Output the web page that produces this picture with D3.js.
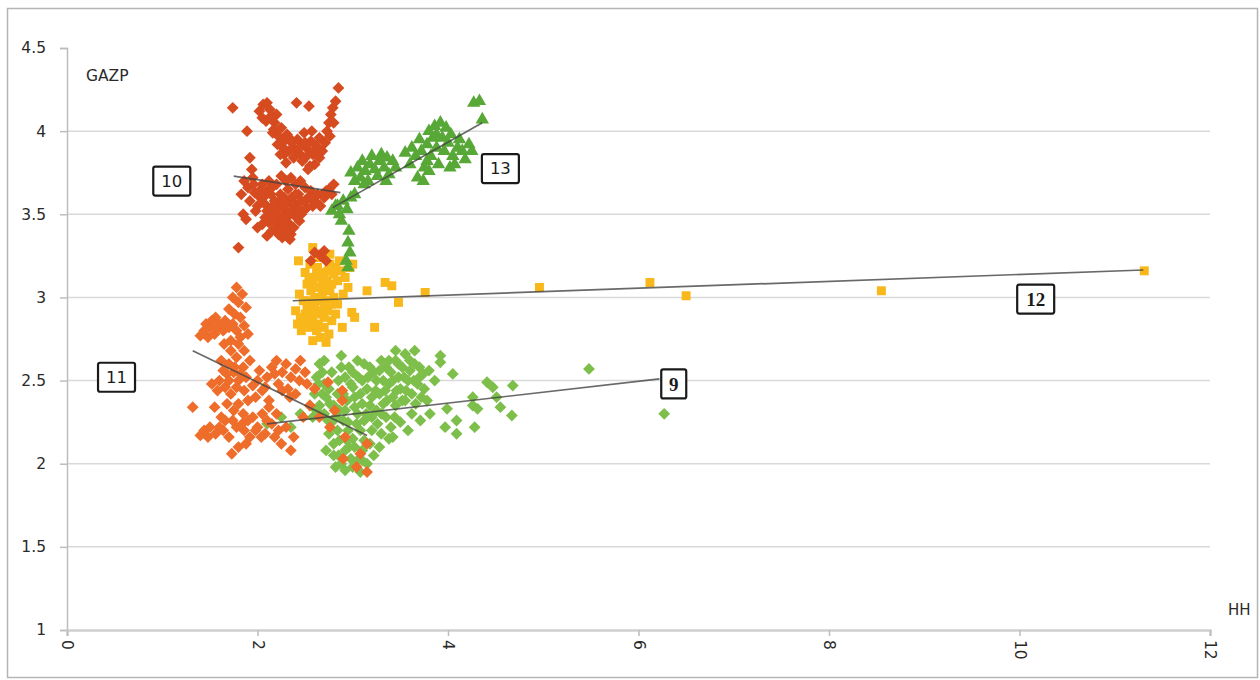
<!DOCTYPE html>
<html>
<head>
<meta charset="utf-8">
<script src="https://cdn.jsdelivr.net/npm/d3@7"></script>
<style>
  html, body { margin: 0; padding: 0; background: #fff; }
  svg { display: block; }
</style>
</head>
<body>
<svg id="chart" width="1260" height="680"></svg>
<script>
// Axis ticks
const xTicks = [0, 2, 4, 6, 8, 10, 12];
const yTicks = [1, 1.5, 2, 2.5, 3, 3.5, 4, 4.5];

// Series 9: light green diamonds (HH, GAZP)
const series9 = [
  [2.10,2.24],[2.25,2.28],[2.35,2.22],[2.45,2.30],[2.55,2.35],[2.60,2.42],[2.62,2.52],[2.65,2.60],
  [2.68,2.55],[2.70,2.48],[2.72,2.40],[2.75,2.45],[2.78,2.55],[2.80,2.35],[2.82,2.28],[2.85,2.50],
  [2.88,2.58],[2.90,2.42],[2.92,2.32],[2.95,2.25],[2.98,2.48],[3.00,2.55],[3.02,2.40],[3.05,2.30],
  [3.08,2.20],[3.10,2.50],[3.12,2.60],[3.15,2.45],[3.18,2.35],[3.20,2.28],[3.22,2.55],[3.25,2.50],
  [3.28,2.42],[3.30,2.62],[3.32,2.36],[3.35,2.58],[3.38,2.48],[3.40,2.55],[3.42,2.40],[3.45,2.62],
  [3.48,2.52],[3.50,2.45],[3.52,2.58],[3.55,2.66],[3.58,2.50],[3.60,2.56],[3.62,2.42],[3.65,2.60],
  [3.68,2.48],[3.70,2.52],[3.72,2.40],[3.75,2.45],[3.78,2.38],[2.75,2.18],[2.80,2.12],[2.85,2.05],
  [2.88,2.00],[2.92,1.96],[2.96,2.10],[3.00,2.15],[3.05,2.02],[3.10,2.08],[3.15,2.00],[3.18,2.12],
  [3.22,2.05],[3.00,1.98],[2.95,2.20],[2.78,2.25],[2.70,2.30],[2.65,2.35],[2.88,2.65],[3.05,2.62],
  [3.25,2.32],[3.35,2.28],[3.45,2.35],[3.55,2.38],[3.62,2.30],[3.50,2.25],[3.40,2.22],[3.30,2.18],
  [3.20,2.20],[3.12,2.26],[3.45,2.68],[3.65,2.68],[3.80,2.56],[3.86,2.50],[2.72,2.08],[2.82,1.98],
  [3.08,1.95],[3.28,2.10],[3.38,2.15],[3.58,2.20],[2.58,2.28],[2.68,2.42],[2.92,2.52],[3.18,2.58],
  [2.64,2.48],[2.70,2.62],[2.76,2.36],[2.84,2.42],[2.86,2.32],[2.90,2.26],[2.94,2.38],[2.96,2.58],
  [3.00,2.46],[3.02,2.34],[3.04,2.24],[3.06,2.52],[3.08,2.42],[3.10,2.36],[3.12,2.14],[3.14,2.30],
  [3.16,2.52],[3.20,2.40],[3.24,2.44],[3.26,2.24],[3.28,2.56],[3.30,2.30],[3.32,2.50],[3.34,2.44],
  [3.36,2.38],[3.38,2.62],[3.42,2.50],[3.44,2.28],[3.46,2.44],[3.48,2.60],[3.52,2.38],[3.54,2.52],
  [3.56,2.44],[3.60,2.62],[3.64,2.50],[3.66,2.36],[3.70,2.58],[3.74,2.54],[2.80,2.05],[2.86,2.14],
  [2.92,2.08],[2.98,2.03],[3.02,2.10],[3.10,2.02],[2.94,2.14],[2.84,2.20],[2.74,2.26],[2.62,2.32],
  [3.92,2.65],[3.92,2.61],[4.05,2.54],[3.99,2.33],[4.09,2.26],[3.97,2.22],[4.09,2.18],[4.28,2.22],
  [4.26,2.35],[4.41,2.49],[4.47,2.46],[4.51,2.40],[4.55,2.34],[4.67,2.29],[4.68,2.47],[4.31,2.33],
  [3.42,2.16],[3.71,2.26],[3.81,2.30],[4.26,2.40],[5.48,2.57],[6.27,2.30]
];

// Series 10: dark orange diamonds
const series10 = [
  [1.74,4.14],[1.89,4.00],[2.02,4.12],[2.06,4.16],[2.10,4.17],[2.13,4.13],[2.05,4.08],[2.09,4.06],
  [2.14,4.09],[2.18,4.05],[2.20,4.10],[2.17,4.01],[2.22,3.97],[2.25,4.02],[2.28,3.94],[2.31,3.98],
  [2.27,3.90],[2.21,3.92],[2.33,3.88],[2.36,3.93],[2.40,3.89],[2.42,3.95],[2.45,3.86],[2.48,3.92],
  [2.50,3.84],[2.53,3.89],[2.56,3.94],[2.58,3.86],[2.62,3.91],[2.60,3.80],[2.55,3.79],[2.47,3.82],
  [2.38,3.84],[2.30,3.81],[2.41,4.17],[2.54,4.15],[2.49,3.99],[2.57,4.00],[2.65,3.96],[2.68,3.88],
  [2.71,3.93],[2.73,4.00],[2.75,4.05],[2.77,4.10],[2.79,4.14],[2.82,4.18],[2.85,4.26],[2.80,4.05],
  [2.76,3.97],[1.92,3.84],[1.94,3.77],[2.53,3.77],[2.16,3.99],
  [1.80,3.30],[1.85,3.50],[1.83,3.62],[1.86,3.70],[1.90,3.66],[1.95,3.72],[1.92,3.58],[1.97,3.63],
  [2.00,3.55],[2.03,3.60],[2.05,3.68],[1.98,3.52],[2.00,3.42],[2.05,3.44],[2.08,3.48],[2.10,3.52],
  [2.12,3.45],[2.15,3.40],[2.18,3.50],[2.20,3.44],[2.22,3.55],[2.25,3.48],[2.27,3.42],[2.30,3.52],
  [2.32,3.45],[2.35,3.38],[2.28,3.60],[2.24,3.62],[2.18,3.58],[2.14,3.62],[2.34,3.35],[2.38,3.50],
  [2.40,3.56],[2.43,3.62],[2.46,3.58],[2.50,3.66],[2.53,3.60],[2.56,3.64],[2.60,3.58],[2.63,3.62],
  [2.66,3.55],[2.70,3.60],[2.75,3.65],[2.80,3.68],[2.45,3.70],[2.40,3.68],[2.35,3.72],[2.30,3.70],
  [2.25,3.73],[2.20,3.68],[2.12,3.70],[2.22,3.38],[2.26,3.36],[2.38,3.42],[2.44,3.46],[2.48,3.52],
  [2.33,3.58],[2.10,3.37],[1.88,3.47],[2.26,3.55],[2.36,3.60],[2.30,3.45],[2.20,3.52],
  [2.08,3.56],[2.13,3.49],[2.16,3.55],[2.21,3.47],[2.24,3.41],[2.28,3.48],[2.31,3.40],[2.34,3.50],
  [2.37,3.55],[2.41,3.48],[2.43,3.53],[2.46,3.50],[2.50,3.58],[2.52,3.54],[2.55,3.60],[2.58,3.55],
  [2.62,3.57],[2.68,3.62],[2.72,3.64],[2.78,3.62],[2.02,3.64],[2.06,3.60],[2.10,3.64],[2.29,3.56],
  [2.25,3.59],[2.18,3.46],[2.15,3.66],[1.96,3.68],[2.32,3.65],[2.40,3.62],[2.28,3.86],[2.35,3.95],
  [2.24,3.86],[2.44,3.90],[2.50,3.93],[2.60,3.88],[2.65,3.84],
  [2.60,3.27],[2.66,3.25],[2.72,3.22],[2.70,3.28],[2.56,3.22],[2.32,3.36]
];

// Series 11: orange diamonds
const series11 = [
  [1.78,3.06],[1.74,3.00],[1.80,2.97],[1.84,3.02],[1.70,2.93],[1.76,2.90],[1.82,2.88],[1.88,2.94],
  [1.56,2.88],[1.60,2.84],[1.50,2.82],[1.44,2.80],[1.40,2.77],[1.48,2.76],[1.55,2.78],[1.64,2.80],
  [1.70,2.82],[1.78,2.80],[1.86,2.83],[1.90,2.78],[1.72,2.74],[1.65,2.72],[1.80,2.72],[1.62,2.62],
  [1.70,2.60],[1.78,2.64],[1.85,2.58],[1.92,2.62],[1.68,2.54],[1.75,2.55],[1.60,2.50],[1.52,2.48],
  [1.58,2.44],[1.66,2.46],[1.72,2.42],[1.80,2.50],[1.88,2.52],[1.95,2.47],[2.02,2.56],[2.10,2.52],
  [2.15,2.58],[2.20,2.62],[2.26,2.55],[2.30,2.60],[2.35,2.52],[2.40,2.57],[2.45,2.62],[2.50,2.55],
  [2.22,2.48],[2.32,2.45],[2.40,2.42],[2.05,2.44],[1.98,2.40],[1.90,2.38],[1.80,2.36],[1.85,2.30],
  [1.75,2.32],[1.68,2.36],[1.62,2.28],[1.55,2.34],[1.32,2.34],[1.40,2.17],[1.48,2.16],[1.56,2.18],
  [1.64,2.20],[1.70,2.16],[1.78,2.22],[1.86,2.20],[1.92,2.16],[2.00,2.22],[2.08,2.18],[2.15,2.24],
  [2.22,2.20],[2.30,2.22],[2.38,2.16],[2.05,2.30],[2.12,2.34],[2.20,2.30],[1.95,2.28],[1.73,2.06],
  [1.80,2.10],[1.88,2.12],[2.25,2.12],[2.35,2.08],[2.12,2.38],[2.74,2.49],[2.89,2.44],[2.89,2.38],
  [2.81,2.32],[2.76,2.22],[2.92,2.16],[3.15,2.12],[3.08,2.06],[2.90,2.03],[3.04,1.98],[3.15,1.95],
  [2.60,2.45],[2.55,2.35],[2.65,2.28],[2.48,2.28],
  [1.46,2.84],[1.52,2.86],[1.58,2.82],[1.66,2.86],[1.74,2.84],[1.82,2.76],[1.86,2.68],[1.72,2.68],
  [1.76,2.58],[1.82,2.54],[1.70,2.50],[1.64,2.56],[1.78,2.46],[1.86,2.44],[2.00,2.50],[2.08,2.46],
  [2.18,2.54],[2.26,2.44],[2.34,2.40],[2.44,2.50],[2.52,2.48],[1.60,2.22],[1.66,2.26],[1.74,2.26],
  [1.84,2.24],[1.90,2.26],[1.98,2.20],[2.04,2.16],[2.10,2.26],[1.50,2.22],[1.44,2.20],[2.18,2.16]
];

// Series 12: yellow squares
const series12 = [
  [2.43,3.22],[2.58,3.30],[2.97,3.18],[2.50,3.15],[2.55,3.20],[2.60,3.12],[2.63,3.18],[2.66,3.24],
  [2.70,3.15],[2.73,3.10],[2.76,3.20],[2.80,3.14],[2.84,3.10],[2.88,3.16],[2.92,3.12],[2.95,3.06],
  [2.52,3.08],[2.56,3.04],[2.60,3.00],[2.64,3.06],[2.68,3.02],[2.72,2.98],[2.76,3.04],[2.80,3.00],
  [2.84,2.96],[2.48,2.98],[2.52,2.93],[2.56,2.90],[2.60,2.95],[2.65,2.92],[2.70,2.88],[2.74,2.92],
  [2.78,2.86],[2.82,2.90],[2.45,2.88],[2.42,2.84],[2.46,2.80],[2.50,2.85],[2.55,2.82],[2.62,2.80],
  [2.66,2.76],[2.70,2.82],[2.75,2.78],[2.58,2.74],[2.72,2.73],[2.40,2.92],[2.44,3.02],[2.68,3.10],
  [2.90,3.02],[2.99,2.91],[3.02,2.88],[2.89,2.82],[3.15,3.04],[3.34,3.09],[3.41,3.07],[3.48,2.97],
  [3.23,2.82],[2.76,3.26],[2.62,3.26],[2.86,3.22],[3.00,3.20],
  [2.54,3.12],[2.58,3.08],[2.62,3.16],[2.66,3.12],[2.70,3.06],[2.74,3.16],[2.78,3.08],[2.82,3.18],
  [2.54,2.98],[2.58,2.86],[2.62,2.90],[2.66,2.98],[2.70,2.94],[2.78,2.96],[2.50,2.90],[2.64,2.84],
  [3.76,3.03],[4.96,3.06],[6.12,3.09],[6.50,3.01],[8.55,3.04],[11.31,3.16]
];

// Series 13: green triangles
const series13 = [
  [4.27,4.17],[4.33,4.18],[4.36,4.07],
  [2.98,3.75],[3.02,3.70],[3.05,3.78],[3.08,3.72],[3.10,3.82],[3.13,3.76],[3.16,3.70],[3.18,3.80],
  [3.20,3.85],[3.23,3.77],[3.26,3.73],[3.28,3.82],[3.30,3.86],[3.33,3.78],[3.36,3.84],[3.38,3.74],
  [3.42,3.82],[3.45,3.78],[3.12,3.68],[3.35,3.70],
  [3.55,3.87],[3.62,3.90],[3.60,3.80],[3.66,3.85],[3.70,3.95],[3.72,3.88],[3.75,3.78],[3.74,3.70],
  [3.78,3.92],[3.80,4.00],[3.82,3.85],[3.84,3.96],[3.86,4.03],[3.88,3.90],[3.90,3.80],[3.92,4.05],
  [3.94,3.96],[3.96,3.88],[3.98,4.02],[4.00,3.93],[4.03,3.98],[4.05,3.85],[4.07,3.80],[4.10,3.90],
  [4.12,3.95],[4.15,3.88],[4.18,3.83],[4.22,3.92],[4.25,3.88],[3.68,3.72],[3.80,3.76],[4.02,3.78],
  [3.88,3.98],[3.78,3.82],
  [2.78,3.52],[2.82,3.55],[2.86,3.50],[2.90,3.58],[2.94,3.53],[2.98,3.60],[3.02,3.62],[2.88,3.46],
  [2.96,3.40],[2.95,3.33],[2.97,3.27],[2.93,3.22],[2.95,3.18],[2.84,3.55]
];

// Trend line end points per series
const trend9  = [[2.10,2.24],[6.22,2.51]];
const trend10 = [[1.75,3.73],[2.87,3.63]];
const trend11 = [[1.32,2.68],[3.15,2.17]];
const trend12 = [[2.37,2.98],[11.30,3.165]];
const trend13 = [[2.79,3.54],[4.36,4.05]];

// Series numbers shown in framed boxes, anchored in data units
const boxLabels = ["10", "13", "12", "11", "9"];
const boxAnchors = [[1.10,3.70],[4.55,3.775],[10.17,2.99],[0.52,2.52],[6.37,2.48]];

const svg = d3.select("#chart");

const x = d3.scaleLinear().domain([0, 12]).range([67, 1210]);
const y = d3.scaleLinear().domain([1, 4.5]).range([630, 48]);

const FONT = "'DejaVu Sans', Verdana, sans-serif";

// outer frame
svg.append("rect")
  .attr("x", 7.5).attr("y", 8.5).attr("width", 1250).attr("height", 669)
  .attr("fill", "#fff").attr("stroke", "#b5b5b5").attr("stroke-width", 1.5);

// horizontal gridlines
svg.append("g")
  .selectAll("line")
  .data(yTicks.filter(d => d > 1 && d < 4.5))
  .join("line")
  .attr("x1", x(0)).attr("x2", x(12))
  .attr("y1", d => y(d)).attr("y2", d => y(d))
  .attr("stroke", "#d9d9d9").attr("stroke-width", 1.5);

// y axis
const yAxis = d3.axisLeft(y).tickValues(yTicks).tickSize(7).tickPadding(14).tickFormat(d3.format("~g"));
const gy = svg.append("g").attr("transform", `translate(${x(0)},0)`).call(yAxis);
gy.attr("font-family", FONT).attr("font-size", 15.5);
gy.select(".domain").attr("stroke", "#bdbdbd").attr("stroke-width", 1.5);
gy.selectAll(".tick line").attr("stroke", "#bdbdbd").attr("stroke-width", 1.5);
gy.selectAll(".tick text").attr("fill", "#2a2a2a");

// x axis
const xAxis = d3.axisBottom(x).tickValues(xTicks).tickSize(6).tickFormat(d3.format("d"));
const gx = svg.append("g").attr("transform", `translate(0,${y(1)})`).call(xAxis);
gx.attr("font-family", FONT).attr("font-size", 15.5);
gx.select(".domain").attr("stroke", "#cfcfcf").attr("stroke-width", 2.5);
gx.selectAll(".tick line").attr("stroke", "#bdbdbd").attr("stroke-width", 1.5);
gx.selectAll(".tick text")
  .attr("transform", "rotate(90)")
  .attr("x", 10).attr("y", 0).attr("dy", "0.35em")
  .attr("text-anchor", "start")
  .attr("fill", "#2a2a2a");

// axis titles
svg.append("text").attr("x", 86).attr("y", 81).text("GAZP")
  .attr("fill", "#2a2a2a").style("font-family", FONT).style("font-size", "15.5px");
svg.append("text").attr("x", 1228).attr("y", 615).text("HH")
  .attr("fill", "#2a2a2a").style("font-family", FONT).style("font-size", "15px");

// marker symbols
const diamond = d3.symbol().type(d3.symbolSquare).size(70)();
const square = d3.symbol().type(d3.symbolSquare).size(80)();
const triangle = d3.symbol().type(d3.symbolTriangle).size(78)();

function drawSeries(data, path, color, rotate) {
  svg.append("g")
    .selectAll("path")
    .data(data)
    .join("path")
    .attr("d", path)
    .attr("transform", d => `translate(${x(d[0])},${y(d[1])})${rotate ? " rotate(45)" : ""}`)
    .attr("fill", color);
}

drawSeries(series9, diamond, "#7dbf4a", true);
drawSeries(series12, square, "#f8b71b", false);
drawSeries(series10, diamond, "#d64b1f", true);
drawSeries(series13, triangle, "#58a838", false);
drawSeries(series11, diamond, "#ee6d2b", true);

// trend lines
const line = d3.line().x(d => x(d[0])).y(d => y(d[1]));
[trend9, trend10, trend11, trend12, trend13].forEach(t => {
  svg.append("path")
    .attr("d", line(t))
    .attr("fill", "none")
    .attr("stroke", "#444")
    .attr("stroke-opacity", 0.8)
    .attr("stroke-width", 1.7);
});

// framed series numbers
const labelG = svg.append("g");
boxLabels.forEach((t, i) => {
  const cx = x(boxAnchors[i][0]), cy = y(boxAnchors[i][1]);
  const w = t.length > 1 ? 37 : 25, h = 29;
  labelG.append("rect")
    .attr("x", cx - w / 2).attr("y", cy - h / 2)
    .attr("width", w).attr("height", h).attr("rx", 2)
    .attr("fill", "#fff").attr("stroke", "#1a1a1a").attr("stroke-width", 2.2);
  const serif = (t === "9" || t === "12");
  labelG.append("text")
    .attr("x", cx).attr("y", cy).attr("dy", "0.36em")
    .attr("text-anchor", "middle")
    .attr("fill", "#1a1a1a")
    .style("font-family", serif ? "'Liberation Serif', serif" : FONT)
    .style("font-size", serif ? "19px" : "16.5px")
    .style("font-weight", serif ? "bold" : "normal")
    .text(t);
});
</script>
</body>
</html>
